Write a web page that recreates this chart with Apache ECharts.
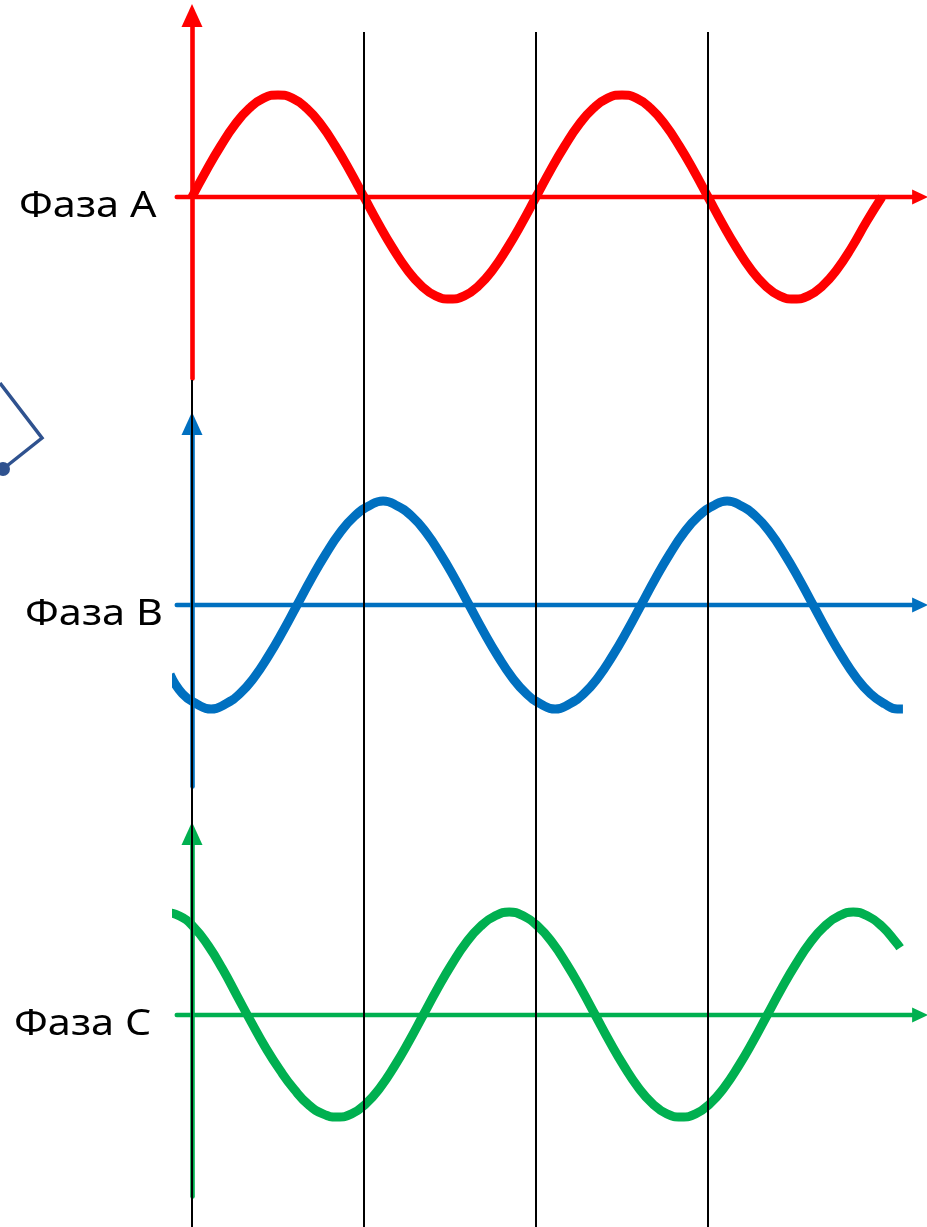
<!DOCTYPE html>
<html>
<head>
<meta charset="utf-8">
<script src="https://cdn.jsdelivr.net/npm/echarts@6/dist/echarts.min.js"></script>
<style>
  html, body { margin: 0; padding: 0; background: #ffffff; }
  #chart { width: 927px; height: 1227px; }
</style>
</head>
<body>
<div id="chart"></div>
<script>
// Phase labels and colours
const phaseNames = ['Фаза A', 'Фаза B', 'Фаза C'];
const phaseColors = ['#FF0000', '#0070C0', '#00B050'];

// Waveforms: [electrical angle in degrees, amplitude in per-unit]
const phaseA = [
  [0, 0], [15, 0.26], [30, 0.5], [45, 0.71], [60, 0.87], [75, 0.97], [90, 1.0],
  [105, 0.97], [120, 0.87], [135, 0.71], [150, 0.5], [165, 0.26], [180, 0],
  [195, -0.26], [210, -0.5], [225, -0.71], [240, -0.87], [255, -0.97], [270, -1.0],
  [285, -0.97], [300, -0.87], [315, -0.71], [330, -0.5], [345, -0.26], [360, 0],
  [375, 0.26], [390, 0.5], [405, 0.71], [420, 0.87], [435, 0.97], [450, 1.0],
  [465, 0.97], [480, 0.87], [495, 0.71], [510, 0.5], [525, 0.26], [540, 0],
  [555, -0.26], [570, -0.5], [585, -0.71], [600, -0.87], [615, -0.97], [630, -1.0],
  [645, -0.97], [660, -0.87], [675, -0.71], [690, -0.5], [706, -0.24], [722, 0]
];
const phaseB = [
  [-23, -0.68], [-10, -0.87], [5, -0.97], [20, -1.02], [35, -0.97], [50, -0.87],
  [65, -0.71], [80, -0.5], [95, -0.26], [110, 0], [125, 0.26], [140, 0.5],
  [155, 0.71], [170, 0.87], [185, 0.97], [200, 1.02], [215, 0.97], [230, 0.87],
  [245, 0.71], [260, 0.5], [275, 0.26], [290, 0], [305, -0.26], [320, -0.5],
  [335, -0.71], [350, -0.87], [365, -0.97], [380, -1.02], [395, -0.97], [410, -0.87],
  [425, -0.71], [440, -0.5], [455, -0.26], [470, 0], [485, 0.26], [500, 0.5],
  [515, 0.71], [530, 0.87], [545, 0.97], [560, 1.02], [575, 0.97], [590, 0.87],
  [605, 0.71], [620, 0.5], [635, 0.26], [650, 0], [665, -0.26], [680, -0.5],
  [695, -0.71], [710, -0.87], [725, -0.97], [738, -1.02], [744, -1.02]
];
const phaseC = [
  [-33, 1.0], [-28, 1.0], [-13, 0.97], [2, 0.86], [17, 0.68], [32, 0.45],
  [47, 0.19], [62, -0.07], [77, -0.32], [92, -0.54], [107, -0.73], [122, -0.88],
  [137, -0.97], [152, -1.0], [167, -0.97], [182, -0.87], [197, -0.71], [212, -0.5],
  [227, -0.26], [242, 0], [257, 0.26], [272, 0.5], [287, 0.71], [302, 0.87],
  [317, 0.97], [332, 1.01], [347, 0.97], [362, 0.87], [377, 0.71], [392, 0.5],
  [407, 0.26], [422, 0], [437, -0.26], [452, -0.5], [467, -0.71], [482, -0.87],
  [497, -0.97], [512, -1.0], [527, -0.97], [542, -0.87], [557, -0.71], [572, -0.5],
  [587, -0.26], [602, 0], [617, 0.26], [632, 0.5], [647, 0.71], [662, 0.87],
  [677, 0.97], [692, 1.01], [707, 0.97], [722, 0.87], [737, 0.71], [741, 0.66]
];
const phaseData = [phaseA, phaseB, phaseC];

// Vertical reference lines (degrees)
const guideAngles = [180, 360, 540];
const originAngle = [0];

// ---- layout ----
const W = 927;
const ORIGIN_X = 192;            // x pixel of 0 degrees
const PX_PER_DEG = 344 / 360;
const DEG_MIN = -16, DEG_MAX = 762;
const gridLeft = ORIGIN_X + DEG_MIN * PX_PER_DEG;
const gridRight = W - (ORIGIN_X + DEG_MAX * PX_PER_DEG);
const AMP_PX = 102;
const Y_EXT = 1.78;
const axisCenters = [197, 605, 1015];
const labelX = [19, 25, 14];

const grids = [], xAxes = [], yAxes = [], series = [];

axisCenters.forEach((cy, i) => {
  grids.push({
    left: gridLeft, right: gridRight,
    top: cy - Y_EXT * AMP_PX, height: 2 * Y_EXT * AMP_PX,
    containLabel: false
  });
  const axisZ = i === 2 ? 2 : 0;
  xAxes.push({
    gridIndex: i, type: 'value', min: DEG_MIN, max: DEG_MAX, z: axisZ,
    axisLine: { onZero: true, symbol: ['none', 'triangle'], symbolSize: [15, 16],
      lineStyle: { color: phaseColors[i], width: 4.4 } },
    axisTick: { show: false }, axisLabel: { show: false }, splitLine: { show: false }
  });
  yAxes.push({
    gridIndex: i, type: 'value', min: -Y_EXT, max: Y_EXT, z: axisZ,
    axisLine: { onZero: true, symbol: ['none', 'triangle'], symbolSize: [21, 23],
      lineStyle: { color: phaseColors[i], width: 4.6 } },
    axisTick: { show: false }, axisLabel: { show: false }, splitLine: { show: false }
  });
  series.push({
    type: 'line', xAxisIndex: i, yAxisIndex: i, data: phaseData[i],
    smooth: 0.5, showSymbol: false, clip: false, z: 3,
    lineStyle: { color: phaseColors[i], width: 9, cap: 'butt', join: 'round' }
  });
});

// Overlay grids for the black guide lines
const guideTops = [32, 380];
[guideAngles, originAngle].forEach((angles, k) => {
  const gi = grids.length;
  grids.push({ left: gridLeft, right: gridRight, top: guideTops[k], bottom: 0 });
  xAxes.push({ gridIndex: gi, type: 'value', min: DEG_MIN, max: DEG_MAX, show: false });
  yAxes.push({ gridIndex: gi, type: 'value', min: 0, max: 1, show: false });
  series.push({
    type: 'line', xAxisIndex: gi, yAxisIndex: gi, data: [], z: 1,
    markLine: {
      silent: true, symbol: ['none', 'none'], label: { show: false },
      lineStyle: { color: '#000000', width: 2, type: 'solid' },
      emphasis: { disabled: true },
      data: angles.map(a => ({ xAxis: a }))
    }
  });
});

const graphics = phaseNames.map((name, i) => ({
  type: 'text', x: labelX[i], y: axisCenters[i] + 9, scaleX: 1.12, z: 10,
  style: {
    text: name, fill: '#000000', font: '37px "Noto Sans", "Open Sans", sans-serif',
    textAlign: 'left', textVerticalAlign: 'middle'
  }
}));
// Fragment of a neighbouring vector sketch at the left edge
graphics.push({
  type: 'polyline', z: 10,
  shape: { points: [[0, 383], [42, 438], [3, 469]] },
  style: { stroke: '#2F528F', lineWidth: 3.5, fill: null }
});
graphics.push({
  type: 'circle', z: 10,
  shape: { cx: 3, cy: 469, r: 7 },
  style: { fill: '#2F528F' }
});

const chart = echarts.init(document.getElementById('chart'), null, { renderer: 'canvas' });
chart.setOption({
  animation: false,
  backgroundColor: '#ffffff',
  grid: grids, xAxis: xAxes, yAxis: yAxes, series: series,
  graphic: graphics
});
</script>
</body>
</html>
